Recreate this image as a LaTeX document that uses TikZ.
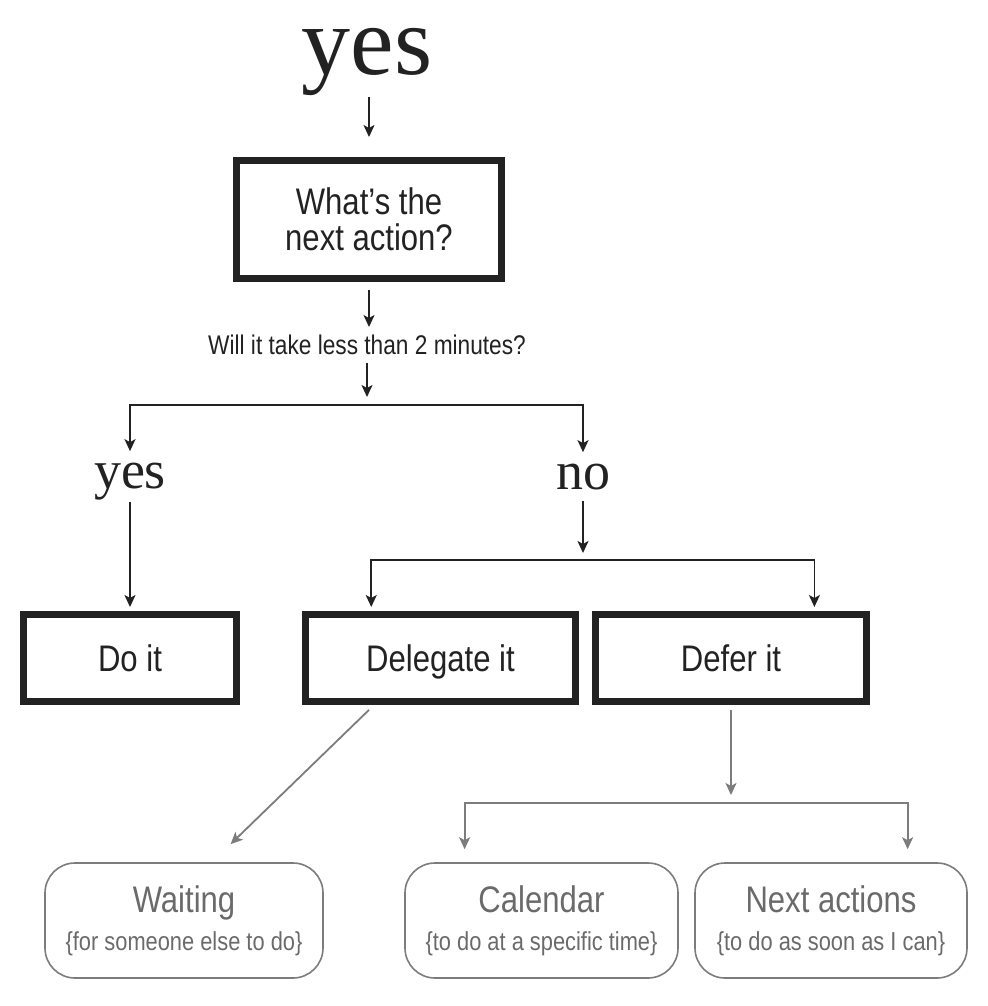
\documentclass[tikz,border=0pt]{standalone}
\usepackage{fontspec}
\setmainfont{Liberation Serif}
\newfontfamily\narrowsans[FakeStretch=0.84]{Liberation Sans}
\usetikzlibrary{arrows.meta,calc}
\definecolor{ink}{HTML}{222222}
\definecolor{slate}{HTML}{7C7C7C}
\definecolor{softink}{HTML}{6A6A6A}
\tikzset{answer/.style={font=\fontsize{27}{27}\selectfont,text=ink,inner sep=0pt,anchor=base},decision/.style={draw=ink,line width=3.5pt,align=center,text=ink,inner sep=0pt,font=\narrowsans\fontsize{18.5}{18}\selectfont},outcome/.style={draw=slate,line width=.8pt,rounded corners=15pt,align=center,text=softink,inner sep=0pt,minimum height=57.5pt,font=\narrowsans\fontsize{13}{19}\selectfont},flow/.style={-{Stealth[length=6pt,width=5.5pt,inset=1.5pt]},line width=.9pt,draw=ink},softflow/.style={flow,draw=slate}}

\begin{document}
\begin{tikzpicture}[x=.5pt,y=-.5pt]
\useasboundingbox (0,0) rectangle (988,1006);
\node[answer,font=\fontsize{49}{49}\selectfont] (start) at (367,75) {yes};
\node[decision,minimum width=132.5pt,minimum height=59pt] (next) at (369,219.5) {What’s the\\next action?};
\node[text=ink,inner sep=0pt,anchor=base,font=\narrowsans\fontsize{13.5}{14}\selectfont] (quick) at (367,354) {Will it take less than 2 minutes?};
\coordinate (split) at (367,405);
\node[answer] (yes) at (130,488) {yes};
\node[answer] (no) at (583,489) {no};
\coordinate (fork) at (583,560);
\foreach \n/\x/\w/\txt in {do/130/106.5/Do it,delegate/440.5/135/Delegate it,defer/731/135.5/Defer it}
  \node[decision,minimum width=\w pt,minimum height=43.5pt,text height=14pt,text depth=1pt] (\n) at (\x,658) {\txt};
\coordinate (spread) at (731,803);
\foreach \n/\x/\w/\main/\sub in {waiting/184/139/Waiting/for someone else to do,calendar/541.5/136.5/Calendar/to do at a specific time,nextact/831/136/Next actions/to do as soon as I can}
  \node[outcome,minimum width=\w pt] (\n) at (\x,920.5) {{\fontsize{18.5}{19}\selectfont\main}\\\{\sub\}};
% top part
\draw[flow,shorten >=10pt] (next.north |- start.south) -- (next.north);
\draw[flow,shorten <=4pt,shorten >=3.5pt] (next.south) -- (next.south |- quick.north);
\draw[flow,shorten <=4pt,shorten >=4pt] (quick.south) -- (split);
\draw[flow,shorten >=5.5pt] (split) -| (yes.north);
\draw[flow,shorten >=5.5pt] (split) -| (no.north);
\draw[flow,shorten <=1pt,shorten >=2pt] (yes.south) -- (do.north);
\draw[flow,shorten <=5.5pt,shorten >=3.5pt] (no.south) -- (fork);
\draw[flow,shorten >=2pt] (fork) -| ($(delegate.north west)!.25!(delegate.north east)$);
\draw[flow,shorten >=2pt] (fork) -| ($(defer.north west)!.8!(defer.north east)$);
% where it goes
\draw[softflow,shorten <=3.5pt,shorten >=13pt] ($(delegate.south west)!.26!(delegate.south east)$) -- ($(waiting.north west)!.6!(waiting.north east)$);
\draw[softflow,shorten <=2.5pt,shorten >=4pt] (defer.south) -- (spread);
\draw[softflow,shorten >=6.5pt] (spread) -| ($(calendar.north west)!.22!(calendar.north east)$);
\draw[softflow,shorten >=6.5pt] (spread) -| ($(nextact.north west)!.78!(nextact.north east)$);
\end{tikzpicture}
\end{document}
